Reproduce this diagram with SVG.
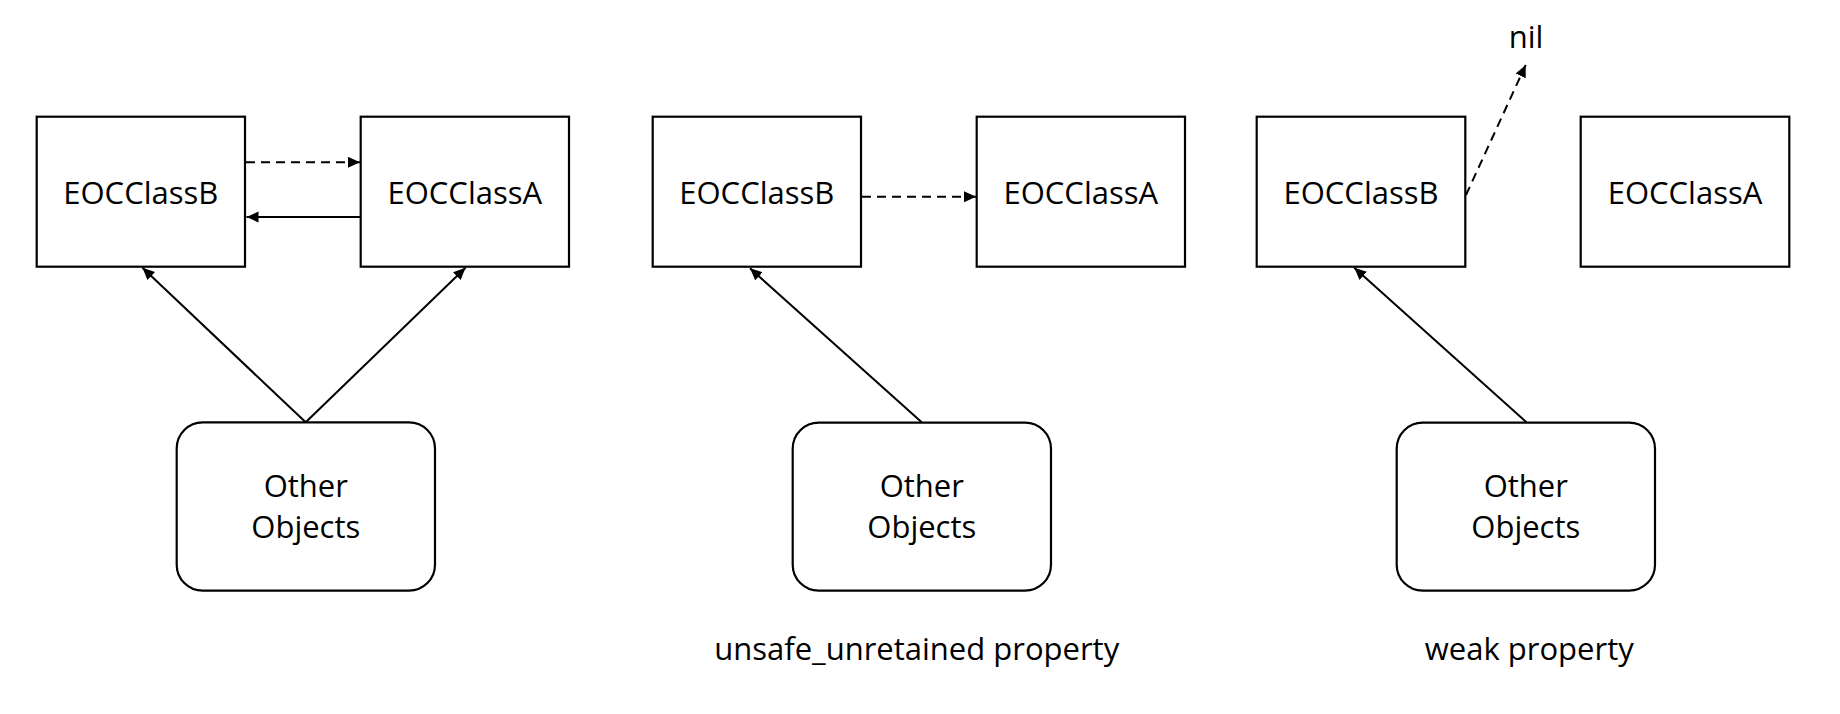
<svg xmlns="http://www.w3.org/2000/svg" width="1840" height="714" viewBox="0 0 1840 714">
<defs>
<style>
.box{fill:#fff;stroke:#000;stroke-width:2.2}
.obj{fill:#fff;stroke:#000;stroke-width:2.2}
.t{font-family:"Open Sans","Liberation Sans",sans-serif;font-size:31px;fill:#000;text-anchor:middle}
.ln{stroke:#000;stroke-width:2;fill:none}
.dash{stroke-dasharray:9 6}
</style>
<marker id="ah" markerUnits="userSpaceOnUse" markerWidth="13" markerHeight="12" refX="12" refY="5.5" orient="auto">
<path d="M0,0 L12,5.5 L0,11 z" fill="#000"/>
</marker>
</defs>
<rect width="1840" height="714" fill="#fff"/>

<g id="connectors">
<line class="ln dash" x1="246" y1="162.3" x2="360" y2="162.3" marker-end="url(#ah)"/>
<line class="ln" x1="360" y1="217" x2="246.5" y2="217" marker-end="url(#ah)"/>
<line class="ln" x1="305.7" y1="422.3" x2="142.5" y2="267.8" marker-end="url(#ah)"/>
<line class="ln" x1="305.7" y1="422.3" x2="465.5" y2="267.8" marker-end="url(#ah)"/>
<line class="ln dash" x1="862" y1="196.7" x2="976" y2="196.7" marker-end="url(#ah)"/>
<line class="ln" x1="921.7" y1="422.3" x2="750" y2="268.3" marker-end="url(#ah)"/>
<line class="ln dash" x1="1466" y1="195" x2="1525.7" y2="65" marker-end="url(#ah)"/>
<line class="ln" x1="1526.5" y1="422.3" x2="1354.3" y2="267.8" marker-end="url(#ah)"/>
</g>

<g id="g1-classB"><rect class="box" x="36.7" y="116.7" width="208.3" height="150"/><text class="t" x="140.8" y="204">EOCClassB</text></g>
<g id="g1-classA"><rect class="box" x="360.7" y="116.7" width="208.3" height="150"/><text class="t" x="464.8" y="204">EOCClassA</text></g>
<g id="g1-other"><rect class="obj" x="176.7" y="422.3" width="258.3" height="168.4" rx="26" ry="26"/><text class="t" x="305.8" y="496.7">Other</text><text class="t" x="305.8" y="537.7">Objects</text></g>

<g id="g2-classB"><rect class="box" x="652.7" y="116.7" width="208.3" height="150"/><text class="t" x="756.8" y="204">EOCClassB</text></g>
<g id="g2-classA"><rect class="box" x="976.7" y="116.7" width="208.3" height="150"/><text class="t" x="1080.8" y="204">EOCClassA</text></g>
<g id="g2-other"><rect class="obj" x="792.7" y="422.7" width="258.3" height="168" rx="26" ry="26"/><text class="t" x="921.8" y="496.7">Other</text><text class="t" x="921.8" y="537.7">Objects</text></g>
<g id="g2-label"><text class="t" x="916.7" y="660">unsafe_unretained property</text></g>

<g id="g3-classB"><rect class="box" x="1256.7" y="116.7" width="208.6" height="150"/><text class="t" x="1361" y="204">EOCClassB</text></g>
<g id="g3-classA"><rect class="box" x="1580.7" y="116.7" width="208.6" height="150"/><text class="t" x="1685" y="204">EOCClassA</text></g>
<g id="g3-other"><rect class="obj" x="1396.7" y="422.7" width="258.3" height="168" rx="26" ry="26"/><text class="t" x="1525.8" y="496.7">Other</text><text class="t" x="1525.8" y="537.7">Objects</text></g>
<g id="g3-nil"><text class="t" x="1526" y="48.3">nil</text></g>
<g id="g3-label"><text class="t" x="1529.3" y="660">weak property</text></g>
</svg>
